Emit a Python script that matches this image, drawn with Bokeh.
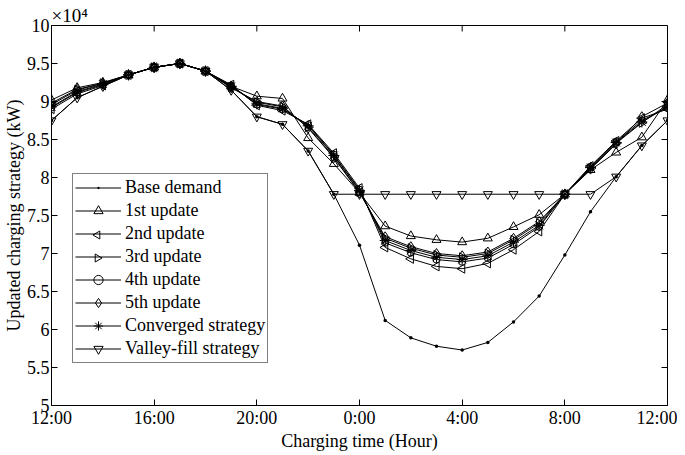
import math
from bokeh.plotting import figure
from bokeh.models import (FixedTicker, Legend, LegendItem, Range1d)
from bokeh.embed import file_html
from bokeh.resources import INLINE

# ---------------- data (values in x10^4 kW) ----------------
hours = list(range(25))  # 12:00 ... 12:00 next day, hourly
x_tick_pos = [0, 4, 8, 12, 16, 20, 24]
x_tick_labels = ["12:00", "16:00", "20:00", "0:00", "4:00", "8:00", "12:00"]
y_tick_pos = [5, 5.5, 6, 6.5, 7, 7.5, 8, 8.5, 9, 9.5, 10]
y_tick_labels = ["5", "5.5", "6", "6.5", "7", "7.5", "8", "8.5", "9", "9.5", "10"]

base_demand = [8.75, 9.05, 9.20, 9.35, 9.45, 9.50, 9.40, 9.15, 8.80, 8.70, 8.35, 7.78,
               7.11, 6.12, 5.89, 5.78, 5.73, 5.83, 6.10, 6.44, 6.98, 7.55, 8.01, 8.42, 8.75]
update_1 = [9.02, 9.18, 9.25, 9.35, 9.45, 9.50, 9.40, 9.20, 9.07, 9.04, 8.52, 8.18,
            7.80, 7.36, 7.23, 7.18, 7.15, 7.20, 7.35, 7.51, 7.78, 8.10, 8.33, 8.53, 9.02]
update_2 = [8.90, 9.10, 9.21, 9.35, 9.45, 9.50, 9.40, 9.22, 8.95, 8.88, 8.70, 8.32,
            7.86, 7.08, 6.93, 6.83, 6.80, 6.87, 7.05, 7.29, 7.78, 8.15, 8.48, 8.78, 8.90]
update_3 = [8.96, 9.15, 9.24, 9.35, 9.45, 9.50, 9.40, 9.19, 8.99, 8.93, 8.66, 8.27,
            7.81, 7.20, 7.07, 6.98, 6.95, 7.00, 7.18, 7.40, 7.78, 8.12, 8.45, 8.72, 8.96]
update_4 = [8.92, 9.12, 9.22, 9.35, 9.45, 9.50, 9.40, 9.21, 8.96, 8.90, 8.69, 8.30,
            7.84, 7.14, 7.01, 6.92, 6.89, 6.94, 7.12, 7.35, 7.78, 8.14, 8.47, 8.75, 8.92]
update_5 = [8.98, 9.16, 9.24, 9.35, 9.45, 9.50, 9.40, 9.18, 9.00, 8.94, 8.65, 8.26,
            7.80, 7.22, 7.09, 7.00, 6.97, 7.02, 7.20, 7.42, 7.78, 8.11, 8.44, 8.80, 8.98]
converged = [8.93, 9.13, 9.23, 9.35, 9.45, 9.50, 9.40, 9.20, 8.97, 8.91, 8.68, 8.29,
             7.83, 7.17, 7.04, 6.95, 6.92, 6.97, 7.15, 7.37, 7.78, 8.13, 8.46, 8.73, 8.93]
valley_fill = [8.75, 9.05, 9.20, 9.35, 9.45, 9.50, 9.40, 9.15, 8.80, 8.70, 8.35, 7.78,
               7.78, 7.78, 7.78, 7.78, 7.78, 7.78, 7.78, 7.78, 7.78, 7.78, 8.01, 8.42, 8.75]

series_names = ["Base demand", "1st update", "2nd update", "3rd update", "4th update",
                "5th update", "Converged strategy", "Valley-fill strategy"]
series_values = [base_demand, update_1, update_2, update_3, update_4, update_5,
                 converged, valley_fill]

FONT = "Liberation Serif"

# (marker, size, angle)
styles = [
    ("dot", 14, 0.0),
    ("triangle", 9, 0.0),
    ("triangle", 9, math.pi / 2),
    ("triangle", 9, -math.pi / 2),
    ("circle", 7, 0.0),
    ("diamond", 10, 0.0),
    ("asterisk", 11, 0.0),
    ("inverted_triangle", 9, 0.0),
]

FW, FH = 616, 380
p = figure(frame_width=FW, frame_height=FH, output_backend="svg", toolbar_location=None,
           x_range=Range1d(0, 24), y_range=Range1d(5, 10),
           min_border_left=43, min_border_right=10, min_border_top=25,
           min_border_bottom=0)
p.extra_x_ranges = {"px": Range1d(0, FW)}
p.extra_y_ranges = {"py": Range1d(0, FH)}
p.xgrid.visible = False
p.ygrid.visible = False
p.outline_line_color = "black"
p.outline_line_width = 1
p.background_fill_color = "white"
p.border_fill_color = "white"

# "x10^4" multiplier above the top-left corner of the axes
p.title.text = "×10⁴"
p.title.align = "left"
p.title.text_font = FONT
p.title.text_font_size = "19px"
p.title.text_font_style = "normal"
p.title.text_color = "black"
p.title.offset = 0
p.title.standoff = 0


def style_axis(ax, ticks, labels):
    ax.ticker = FixedTicker(ticks=ticks)
    ax.major_label_overrides = {t: l for t, l in zip(ticks, labels)}
    ax.axis_line_color = "black"
    ax.major_tick_line_color = "black"
    ax.major_tick_in = 6
    ax.major_tick_out = 0
    ax.minor_tick_line_color = None
    ax.major_label_text_font = FONT
    ax.major_label_text_color = "black"
    ax.major_label_text_font_size = "18px"
    ax.axis_label_text_font = FONT
    ax.axis_label_text_font_style = "normal"
    ax.axis_label_text_color = "black"
    ax.axis_label_standoff = 0


style_axis(p.xaxis[0], x_tick_pos, x_tick_labels)
style_axis(p.yaxis[0], y_tick_pos, y_tick_labels)
p.xaxis[0].axis_label = "Charging time (Hour)"
p.yaxis[0].axis_label = "Updated charging strategy (kW)"
p.xaxis[0].major_label_standoff = 2
p.yaxis[0].major_label_standoff = 2
p.xaxis[0].axis_label_text_font_size = "18px"
p.yaxis[0].axis_label_text_font_size = "18px"

# box ticks on top and right edges (Matlab "box on" style)
tick_dx = 6 * 24 / FW
tick_dy = 6 * 5 / FH
p.segment(x0=x_tick_pos, y0=[10] * len(x_tick_pos), x1=x_tick_pos,
          y1=[10 - tick_dy] * len(x_tick_pos), line_color="black", line_width=1)
p.segment(x0=[24] * len(y_tick_pos), y0=y_tick_pos, x1=[24 - tick_dx] * len(y_tick_pos),
          y1=y_tick_pos, line_color="black", line_width=1)

# legend geometry
LG_X, LG_Y = 21, 42
LG_PAD, LG_ROW, LG_GW = 2, 23, 46
LG_H = 2 * LG_PAD + LG_ROW * len(series_names)

items = []
for i, (name, vals, (mk, sz, ang)) in enumerate(zip(series_names, series_values, styles)):
    ln = p.line(hours, vals, line_color="black", line_width=1)
    sc = p.scatter(hours, vals, marker=mk, size=sz, angle=ang,
                   line_color="black", line_width=1, fill_color=None)
    if ang == 0.0:
        items.append(LegendItem(label=name, renderers=[ln, sc]))
    else:
        # legend glyphs are never rotated by Bokeh: draw the rotated marker separately
        items.append(LegendItem(label=name, renderers=[ln]))
        cx = LG_X + LG_PAD + LG_GW / 2
        cy = LG_Y + LG_H - LG_PAD - i * LG_ROW - LG_ROW / 2
        p.scatter([cx], [cy], marker=mk, size=8, angle=ang, line_color="black",
                  fill_color="white", line_width=1, x_range_name="px",
                  y_range_name="py")

legend = Legend(items=items, location=(LG_X, LG_Y))
legend.margin = 0
legend.padding = LG_PAD
legend.spacing = 0
legend.label_height = LG_ROW
legend.glyph_height = LG_ROW
legend.glyph_width = LG_GW
legend.label_standoff = 4
legend.label_text_font = FONT
legend.label_text_font_size = "18px"
legend.label_text_color = "black"
legend.border_line_color = "black"
legend.border_line_width = 1
legend.background_fill_alpha = 0
p.add_layout(legend, "center")

open("out.html", "w").write(file_html(p, INLINE))
